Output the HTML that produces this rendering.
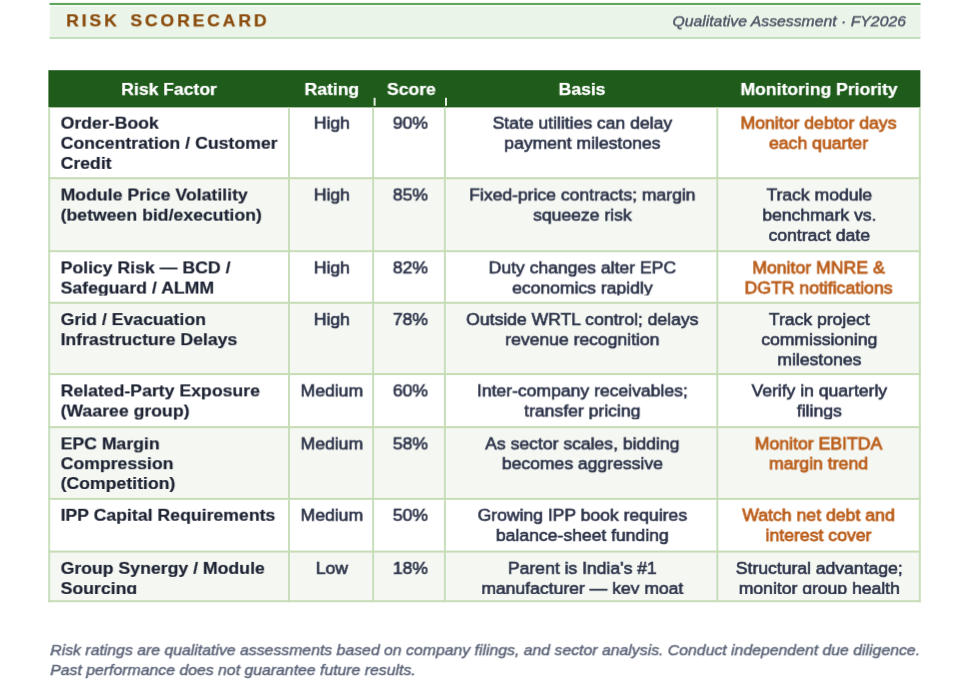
<!DOCTYPE html>
<html lang="en"><head><meta charset="utf-8"><title>Risk Scorecard</title>
<style>
*{box-sizing:border-box;margin:0;padding:0}
html,body{width:975px;height:691px;background:#fff;overflow:hidden}
body{position:relative;font-family:"Liberation Sans",Arial,sans-serif;color:#1f2637}
svg{position:absolute;left:0;top:0}
.t{position:absolute;left:0;top:0;height:20px;line-height:20px;transform-origin:0 0;white-space:nowrap;overflow:hidden;will-change:transform}
.title{font-weight:bold;font-size:16.702px;letter-spacing:2.738px;word-spacing:2.852px;color:#8a4b0c;-webkit-text-stroke:0.25px #8a4b0c}
.sub{font-style:italic;font-size:15.019px;color:#505968;text-align:right;-webkit-text-stroke:0.45px #505968}
.th{color:#fff;font-weight:bold;font-size:16.702px;text-align:center;-webkit-text-stroke:0.25px #fff}
.c{font-size:16.702px;text-align:center;color:#2c3349;-webkit-text-stroke:0.6px #2c3349}
.f{font-size:16.702px;text-align:left;font-weight:bold;color:#1d2333;-webkit-text-stroke:0.2px #1d2333}
.o{font-size:16.702px;text-align:center;color:#bb5e1b;-webkit-text-stroke:0.78px #bb5e1b}
.foot{font-style:italic;font-size:15.019px;color:#5a6377;-webkit-text-stroke:0.42px #5a6377}
</style></head>
<body>
<svg width="975" height="691" viewBox="0 0 975 691"><rect x="49.90" y="5.00" width="870.60" height="32.00" fill="#ebf4e8"/><rect x="49.90" y="5.00" width="870.60" height="1.50" fill="#f7fbf5"/><rect x="49.90" y="35.50" width="870.60" height="1.50" fill="#f0f7ee"/><rect x="49.50" y="2.90" width="871.00" height="2.10" fill="#5ea75e"/><rect x="49.50" y="36.90" width="871.00" height="2.00" fill="#c3dfba"/><rect x="48.20" y="177.20" width="872.60" height="73.00" fill="#f4f7f2"/><rect x="48.20" y="301.80" width="872.60" height="71.30" fill="#f4f7f2"/><rect x="48.20" y="426.15" width="872.60" height="71.75" fill="#f4f7f2"/><rect x="48.20" y="550.60" width="872.60" height="49.60" fill="#f4f7f2"/><rect x="48.40" y="70.20" width="872.00" height="37.20" fill="#1f5c1c"/><rect x="373.60" y="97.80" width="2.00" height="8.00" fill="#e2ecdf"/><rect x="445.00" y="97.80" width="2.00" height="8.00" fill="#e2ecdf"/><rect x="48.20" y="107.40" width="2.00" height="494.80" fill="#c9dfbc"/><rect x="288.00" y="107.40" width="2.00" height="494.80" fill="#c9dfbc"/><rect x="372.10" y="107.40" width="2.00" height="494.80" fill="#c9dfbc"/><rect x="443.90" y="107.40" width="2.00" height="494.80" fill="#c9dfbc"/><rect x="716.30" y="107.40" width="2.00" height="494.80" fill="#c9dfbc"/><rect x="918.80" y="107.40" width="2.00" height="494.80" fill="#c9dfbc"/><rect x="48.20" y="177.20" width="872.60" height="2.00" fill="#c6ddb6"/><rect x="48.20" y="250.20" width="872.60" height="2.00" fill="#c6ddb6"/><rect x="48.20" y="301.80" width="872.60" height="2.00" fill="#c6ddb6"/><rect x="48.20" y="373.10" width="872.60" height="2.00" fill="#c6ddb6"/><rect x="48.20" y="426.15" width="872.60" height="2.00" fill="#c6ddb6"/><rect x="48.20" y="497.90" width="872.60" height="2.00" fill="#c6ddb6"/><rect x="48.20" y="550.60" width="872.60" height="2.00" fill="#c6ddb6"/><rect x="48.20" y="600.20" width="872.60" height="2.00" fill="#c6ddb6"/></svg>
<header>
<div class="t title" style="transform:translate(66.20px,11.30px) scaleX(1.052) rotate(0.001deg)">RISK SCORECARD</div>
<div class="t sub" style="width:285.17px;transform:translate(606.00px,11.30px) scaleX(1.052) rotate(0.001deg)">Qualitative Assessment · FY2026</div>
</header>
<div role="table">
<div role="row">
<div role="columnheader" class="t th" style="width:226.05px;transform:translate(50.20px,79.90px) scaleX(1.052) rotate(0.001deg)">Risk Factor</div>
<div role="columnheader" class="t th" style="width:78.04px;transform:translate(290.80px,79.90px) scaleX(1.052) rotate(0.001deg)">Rating</div>
<div role="columnheader" class="t th" style="width:66.35px;transform:translate(376.50px,79.90px) scaleX(1.052) rotate(0.001deg)">Score</div>
<div role="columnheader" class="t th" style="width:257.03px;transform:translate(446.90px,79.90px) scaleX(1.052) rotate(0.001deg)">Basis</div>
<div role="columnheader" class="t th" style="width:190.59px;transform:translate(718.80px,79.90px) scaleX(1.052) rotate(0.001deg)">Monitoring Priority</div>
</div>
<div role="row">
<div role="cell">
<div class="t f" style="width:224.55px;padding-left:9.82px;transform:translate(50.20px,113.70px) scaleX(1.059) rotate(0.001deg)">Order-Book</div>
<div class="t f" style="width:224.55px;padding-left:9.82px;transform:translate(50.20px,133.80px) scaleX(1.059) rotate(0.001deg)">Concentration / Customer</div>
<div class="t f" style="width:224.55px;padding-left:9.82px;height:17.60px;transform:translate(50.20px,153.90px) scaleX(1.059) rotate(0.001deg)">Credit</div>
</div>
<div role="cell">
<div class="t c" style="width:78.04px;transform:translate(290.80px,113.70px) scaleX(1.052) rotate(0.001deg)">High</div>
</div>
<div role="cell">
<div class="t c" style="width:66.35px;transform:translate(375.60px,113.70px) scaleX(1.052) rotate(0.001deg)">90%</div>
</div>
<div role="cell">
<div class="t c" style="width:257.03px;transform:translate(447.20px,113.70px) scaleX(1.052) rotate(0.001deg)">State utilities can delay</div>
<div class="t c" style="width:257.03px;transform:translate(447.20px,133.80px) scaleX(1.052) rotate(0.001deg)">payment milestones</div>
</div>
<div role="cell">
<div class="t o" style="width:189.51px;transform:translate(718.30px,113.70px) scaleX(1.058) rotate(0.001deg)">Monitor debtor days</div>
<div class="t o" style="width:189.51px;transform:translate(718.30px,133.80px) scaleX(1.058) rotate(0.001deg)">each quarter</div>
</div>
</div>
<div role="row">
<div role="cell">
<div class="t f" style="width:224.55px;padding-left:9.82px;transform:translate(50.20px,185.50px) scaleX(1.059) rotate(0.001deg)">Module Price Volatility</div>
<div class="t f" style="width:224.55px;padding-left:9.82px;transform:translate(50.20px,205.70px) scaleX(1.059) rotate(0.001deg)">(between bid/execution)</div>
</div>
<div role="cell">
<div class="t c" style="width:78.04px;transform:translate(290.80px,185.50px) scaleX(1.052) rotate(0.001deg)">High</div>
</div>
<div role="cell">
<div class="t c" style="width:66.35px;transform:translate(375.60px,185.50px) scaleX(1.052) rotate(0.001deg)">85%</div>
</div>
<div role="cell">
<div class="t c" style="width:257.03px;transform:translate(447.20px,185.50px) scaleX(1.052) rotate(0.001deg)">Fixed-price contracts; margin</div>
<div class="t c" style="width:257.03px;transform:translate(447.20px,205.70px) scaleX(1.052) rotate(0.001deg)">squeeze risk</div>
</div>
<div role="cell">
<div class="t c" style="width:190.59px;transform:translate(719.10px,185.50px) scaleX(1.052) rotate(0.001deg)">Track module</div>
<div class="t c" style="width:190.59px;transform:translate(719.10px,205.70px) scaleX(1.052) rotate(0.001deg)">benchmark vs.</div>
<div class="t c" style="width:190.59px;height:18.10px;transform:translate(719.10px,225.90px) scaleX(1.052) rotate(0.001deg)">contract date</div>
</div>
</div>
<div role="row">
<div role="cell">
<div class="t f" style="width:224.55px;padding-left:9.82px;transform:translate(50.20px,258.40px) scaleX(1.059) rotate(0.001deg)">Policy Risk — BCD /</div>
<div class="t f" style="width:224.55px;padding-left:9.82px;height:16.70px;transform:translate(50.20px,278.60px) scaleX(1.059) rotate(0.001deg)">Safeguard / ALMM</div>
</div>
<div role="cell">
<div class="t c" style="width:78.04px;transform:translate(290.80px,258.40px) scaleX(1.052) rotate(0.001deg)">High</div>
</div>
<div role="cell">
<div class="t c" style="width:66.35px;transform:translate(375.60px,258.40px) scaleX(1.052) rotate(0.001deg)">82%</div>
</div>
<div role="cell">
<div class="t c" style="width:257.03px;transform:translate(447.20px,258.40px) scaleX(1.052) rotate(0.001deg)">Duty changes alter EPC</div>
<div class="t c" style="width:257.03px;height:16.70px;transform:translate(447.20px,278.60px) scaleX(1.052) rotate(0.001deg)">economics rapidly</div>
</div>
<div role="cell">
<div class="t o" style="width:189.51px;transform:translate(718.30px,258.40px) scaleX(1.058) rotate(0.001deg)">Monitor MNRE &amp;</div>
<div class="t o" style="width:189.51px;height:16.70px;transform:translate(718.30px,278.60px) scaleX(1.058) rotate(0.001deg)">DGTR notifications</div>
</div>
</div>
<div role="row">
<div role="cell">
<div class="t f" style="width:224.55px;padding-left:9.82px;transform:translate(50.20px,310.10px) scaleX(1.059) rotate(0.001deg)">Grid / Evacuation</div>
<div class="t f" style="width:224.55px;padding-left:9.82px;transform:translate(50.20px,330.20px) scaleX(1.059) rotate(0.001deg)">Infrastructure Delays</div>
</div>
<div role="cell">
<div class="t c" style="width:78.04px;transform:translate(290.80px,310.10px) scaleX(1.052) rotate(0.001deg)">High</div>
</div>
<div role="cell">
<div class="t c" style="width:66.35px;transform:translate(375.60px,310.10px) scaleX(1.052) rotate(0.001deg)">78%</div>
</div>
<div role="cell">
<div class="t c" style="width:257.03px;transform:translate(447.20px,310.10px) scaleX(1.052) rotate(0.001deg)">Outside WRTL control; delays</div>
<div class="t c" style="width:257.03px;transform:translate(447.20px,330.20px) scaleX(1.052) rotate(0.001deg)">revenue recognition</div>
</div>
<div role="cell">
<div class="t c" style="width:190.59px;transform:translate(719.10px,310.10px) scaleX(1.052) rotate(0.001deg)">Track project</div>
<div class="t c" style="width:190.59px;transform:translate(719.10px,330.20px) scaleX(1.052) rotate(0.001deg)">commissioning</div>
<div class="t c" style="width:190.59px;height:17.00px;transform:translate(719.10px,350.30px) scaleX(1.052) rotate(0.001deg)">milestones</div>
</div>
</div>
<div role="row">
<div role="cell">
<div class="t f" style="width:224.55px;padding-left:9.82px;transform:translate(50.20px,381.40px) scaleX(1.059) rotate(0.001deg)">Related-Party Exposure</div>
<div class="t f" style="width:224.55px;padding-left:9.82px;height:18.05px;transform:translate(50.20px,401.55px) scaleX(1.059) rotate(0.001deg)">(Waaree group)</div>
</div>
<div role="cell">
<div class="t c" style="width:78.04px;transform:translate(290.80px,381.40px) scaleX(1.052) rotate(0.001deg)">Medium</div>
</div>
<div role="cell">
<div class="t c" style="width:66.35px;transform:translate(375.60px,381.40px) scaleX(1.052) rotate(0.001deg)">60%</div>
</div>
<div role="cell">
<div class="t c" style="width:257.03px;transform:translate(447.20px,381.40px) scaleX(1.052) rotate(0.001deg)">Inter-company receivables;</div>
<div class="t c" style="width:257.03px;height:18.05px;transform:translate(447.20px,401.55px) scaleX(1.052) rotate(0.001deg)">transfer pricing</div>
</div>
<div role="cell">
<div class="t c" style="width:190.59px;transform:translate(719.10px,381.40px) scaleX(1.052) rotate(0.001deg)">Verify in quarterly</div>
<div class="t c" style="width:190.59px;height:18.05px;transform:translate(719.10px,401.55px) scaleX(1.052) rotate(0.001deg)">filings</div>
</div>
</div>
<div role="row">
<div role="cell">
<div class="t f" style="width:224.55px;padding-left:9.82px;transform:translate(50.20px,434.40px) scaleX(1.059) rotate(0.001deg)">EPC Margin</div>
<div class="t f" style="width:224.55px;padding-left:9.82px;transform:translate(50.20px,454.20px) scaleX(1.059) rotate(0.001deg)">Compression</div>
<div class="t f" style="width:224.55px;padding-left:9.82px;height:17.80px;transform:translate(50.20px,474.00px) scaleX(1.059) rotate(0.001deg)">(Competition)</div>
</div>
<div role="cell">
<div class="t c" style="width:78.04px;transform:translate(290.80px,434.40px) scaleX(1.052) rotate(0.001deg)">Medium</div>
</div>
<div role="cell">
<div class="t c" style="width:66.35px;transform:translate(375.60px,434.40px) scaleX(1.052) rotate(0.001deg)">58%</div>
</div>
<div role="cell">
<div class="t c" style="width:257.03px;transform:translate(447.20px,434.40px) scaleX(1.052) rotate(0.001deg)">As sector scales, bidding</div>
<div class="t c" style="width:257.03px;transform:translate(447.20px,454.20px) scaleX(1.052) rotate(0.001deg)">becomes aggressive</div>
</div>
<div role="cell">
<div class="t o" style="width:189.51px;transform:translate(718.30px,434.40px) scaleX(1.058) rotate(0.001deg)">Monitor EBITDA</div>
<div class="t o" style="width:189.51px;transform:translate(718.30px,454.20px) scaleX(1.058) rotate(0.001deg)">margin trend</div>
</div>
</div>
<div role="row">
<div role="cell">
<div class="t f" style="width:224.55px;padding-left:9.82px;transform:translate(50.20px,505.80px) scaleX(1.059) rotate(0.001deg)">IPP Capital Requirements</div>
</div>
<div role="cell">
<div class="t c" style="width:78.04px;transform:translate(290.80px,505.80px) scaleX(1.052) rotate(0.001deg)">Medium</div>
</div>
<div role="cell">
<div class="t c" style="width:66.35px;transform:translate(375.60px,505.80px) scaleX(1.052) rotate(0.001deg)">50%</div>
</div>
<div role="cell">
<div class="t c" style="width:257.03px;transform:translate(447.20px,505.80px) scaleX(1.052) rotate(0.001deg)">Growing IPP book requires</div>
<div class="t c" style="width:257.03px;height:18.55px;transform:translate(447.20px,525.95px) scaleX(1.052) rotate(0.001deg)">balance-sheet funding</div>
</div>
<div role="cell">
<div class="t o" style="width:189.51px;transform:translate(718.30px,505.80px) scaleX(1.058) rotate(0.001deg)">Watch net debt and</div>
<div class="t o" style="width:189.51px;height:18.55px;transform:translate(718.30px,525.95px) scaleX(1.058) rotate(0.001deg)">interest cover</div>
</div>
</div>
<div role="row">
<div role="cell">
<div class="t f" style="width:224.55px;padding-left:9.82px;transform:translate(50.20px,558.90px) scaleX(1.059) rotate(0.001deg)">Group Synergy / Module</div>
<div class="t f" style="width:224.55px;padding-left:9.82px;height:15.25px;transform:translate(50.20px,579.10px) scaleX(1.059) rotate(0.001deg)">Sourcing</div>
</div>
<div role="cell">
<div class="t c" style="width:78.04px;transform:translate(290.80px,558.90px) scaleX(1.052) rotate(0.001deg)">Low</div>
</div>
<div role="cell">
<div class="t c" style="width:66.35px;transform:translate(375.60px,558.90px) scaleX(1.052) rotate(0.001deg)">18%</div>
</div>
<div role="cell">
<div class="t c" style="width:257.03px;transform:translate(447.20px,558.90px) scaleX(1.052) rotate(0.001deg)">Parent is India's #1</div>
<div class="t c" style="width:257.03px;height:15.25px;transform:translate(447.20px,579.10px) scaleX(1.052) rotate(0.001deg)">manufacturer — key moat</div>
</div>
<div role="cell">
<div class="t c" style="width:190.59px;transform:translate(719.10px,558.90px) scaleX(1.052) rotate(0.001deg)">Structural advantage;</div>
<div class="t c" style="width:190.59px;height:15.25px;transform:translate(719.10px,579.10px) scaleX(1.052) rotate(0.001deg)">monitor group health</div>
</div>
</div>
</div>
<footer>
<div class="t foot" style="transform:translate(50.30px,640.20px) scaleX(1.0537) rotate(0.001deg)">Risk ratings are qualitative assessments based on company filings, and sector analysis. Conduct independent due diligence.</div>
<div class="t foot" style="transform:translate(50.30px,660.10px) scaleX(1.0537) rotate(0.001deg)">Past performance does not guarantee future results.</div>
</footer>
</body></html>
